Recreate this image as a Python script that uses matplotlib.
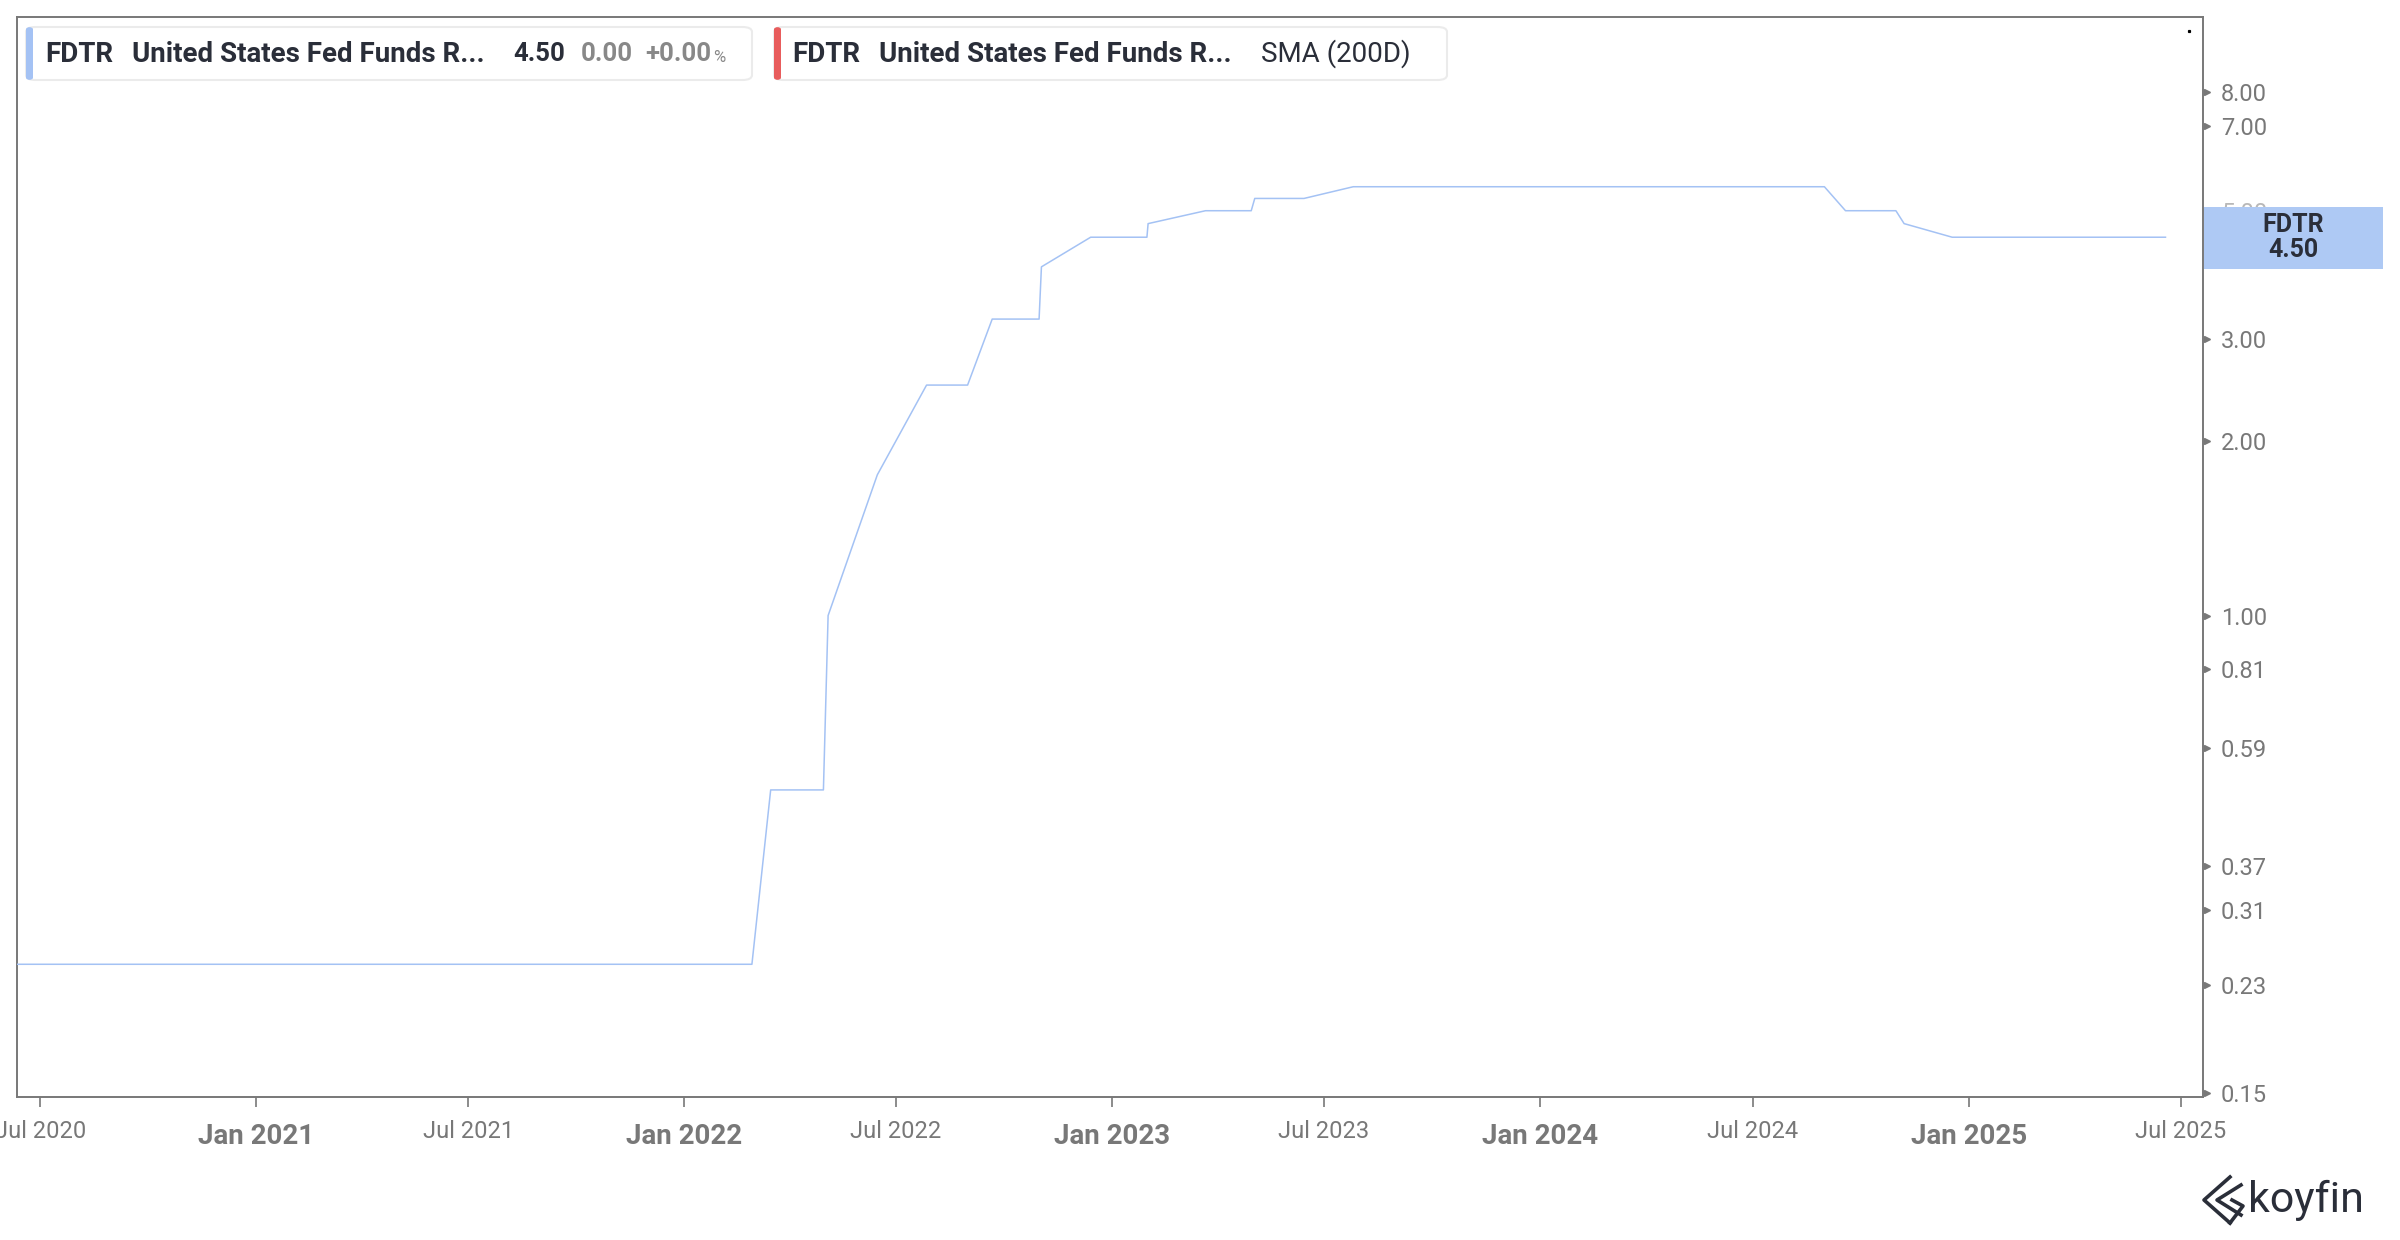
import matplotlib
matplotlib.use("Agg")
import matplotlib.pyplot as plt
import matplotlib.transforms as mtransforms
from matplotlib.patches import FancyBboxPatch, Rectangle
import pandas as pd

# FDTR (upper bound), vertices as drawn by the chart
rate_dates = [
    "2020-06-01", "2022-02-28", "2022-03-16", "2022-04-30", "2022-05-04",
    "2022-06-15", "2022-07-27", "2022-08-31", "2022-09-21", "2022-10-31",
    "2022-11-02", "2022-12-14", "2023-01-31", "2023-02-01", "2023-03-22",
    "2023-04-30", "2023-05-03", "2023-06-14", "2023-07-26", "2024-08-31",
    "2024-09-18", "2024-10-31", "2024-11-07", "2024-12-18", "2025-06-18",
]
rate_values = [
    0.25, 0.25, 0.50, 0.50, 1.00,
    1.75, 2.50, 2.50, 3.25, 3.25,
    4.00, 4.50, 4.50, 4.75, 5.00,
    5.00, 5.25, 5.25, 5.50, 5.50,
    5.00, 5.00, 4.75, 4.50, 4.50,
]

y_ticks = [0.15, 0.23, 0.31, 0.37, 0.59, 0.81, 1.00, 2.00, 3.00, 5.00, 7.00, 8.00]
jan_ticks = ["2021-01-01", "2022-01-01", "2023-01-01", "2024-01-01", "2025-01-01"]
jul_ticks = ["2020-07-01", "2021-07-01", "2022-07-01", "2023-07-01", "2024-07-01", "2025-07-01"]
x_range = ["2020-06-11", "2025-07-20"]
y_range = [0.1475, 10.8]

last_value = 4.50
ticker = "FDTR"
name = "United States Fed Funds R..."

LINE = "#a4c2f4"
GRAY = "#787878"
DARK = "#2a2e39"
FONT = ["Roboto", "DejaVu Sans"]
plt.rcParams["font.family"] = FONT

W, H = 2400, 1240
fig = plt.figure(figsize=(W / 100, H / 100), dpi=100)


def fx(px):
    return px / W


def fy(py):
    return 1 - py / H


left, right, top, bottom = 17, 2203, 17, 1097
ax = fig.add_axes([fx(left), fy(bottom), fx(right - left), (bottom - top) / H])

dates = pd.to_datetime(rate_dates)
ax.plot(dates, rate_values, color=LINE, lw=1.1, zorder=3)

ax.set_yscale("log")
ax.set_ylim(*y_range)
ax.set_xlim(pd.to_datetime(x_range[0]), pd.to_datetime(x_range[1]))

for s in ax.spines.values():
    s.set_color(GRAY)
    s.set_linewidth(1.4)

# y axis on the right with caret ticks
ax.yaxis.tick_right()
ax.yaxis.set_minor_locator(matplotlib.ticker.NullLocator())
ax.set_yticks(y_ticks, [f"{v:.2f}" for v in y_ticks])
ax.tick_params(axis="y", which="both", length=0, pad=13, labelsize=17, labelcolor=GRAY)
for lbl, v in zip(ax.get_yticklabels(), y_ticks):
    if v == 5.00:
        lbl.set_color("#b8b8b8")
caret_tr = mtransforms.blended_transform_factory(ax.transAxes, ax.transData)
ax.plot([1 + 4 / (right - left)] * len(y_ticks), y_ticks, ">", ms=4.5,
        color=GRAY, transform=caret_tr, clip_on=False, zorder=4)

# x axis: Jan bold, Jul regular
jan = pd.to_datetime(jan_ticks)
jul = pd.to_datetime(jul_ticks)
ax.set_xticks(jan, [d.strftime("%b %Y") for d in jan], fontsize=20, fontweight="bold", color=GRAY)
ax.set_xticks(jul, [d.strftime("%b %Y") for d in jul], minor=True, fontsize=17, color=GRAY)
ax.tick_params(axis="x", which="major", length=7, width=1.2, color=GRAY, pad=11.5)
ax.tick_params(axis="x", which="minor", length=7, width=1.2, color=GRAY, pad=9.5)

# tiny marker in the top-right corner
ax.plot([0.9935], [0.9875], "s", ms=1.3, color="black", transform=ax.transAxes)

# legend chips at the top
def chip(x0, x1, color):
    y0, y1 = 27, 80
    fig.patches.append(FancyBboxPatch(
        (fx(x0), fy(y1)), fx(x1 - x0), (y1 - y0) / H,
        boxstyle="round,pad=0,rounding_size=0.004", transform=fig.transFigure,
        facecolor="white", edgecolor="#ebebeb", lw=1.5, zorder=5))
    fig.patches.append(FancyBboxPatch(
        (fx(x0), fy(y1)), fx(7), (y1 - y0) / H,
        boxstyle="round,pad=0,rounding_size=0.002", transform=fig.transFigure,
        facecolor=color, edgecolor="none", zorder=6))


chip(26, 752, LINE)
chip(774, 1447, "#e85c5c")

ty = fy(54)
fig.text(fx(45), ty, ticker, fontsize=20, fontweight="bold", color=DARK, va="center", zorder=7)
fig.text(fx(132), ty, name, fontsize=20, fontweight="bold", color=DARK, va="center", zorder=7)
fig.text(fx(513), ty, f"{last_value:.2f}", fontsize=18.5, fontweight="bold", color=DARK, va="center", zorder=7)
fig.text(fx(581), ty, "0.00", fontsize=18.5, fontweight="bold", color="#888888", va="center", zorder=7)
fig.text(fx(645), ty, "+0.00", fontsize=18.5, fontweight="bold", color="#888888", va="center", zorder=7)
fig.text(fx(713), fy(58), "%", fontsize=12, color="#888888", va="center", zorder=7)
fig.text(fx(792), ty, ticker, fontsize=20, fontweight="bold", color=DARK, va="center", zorder=7)
fig.text(fx(879), ty, name, fontsize=20, fontweight="bold", color=DARK, va="center", zorder=7)
fig.text(fx(1261), ty, "SMA (200D)", fontsize=20, color=DARK, va="center", zorder=7)

# last value label on the right axis
fig.patches.append(Rectangle((fx(2204), fy(269)), fx(2383 - 2204), (269 - 207) / H,
                             transform=fig.transFigure, facecolor="#aec9f4",
                             edgecolor="none", zorder=5))
fig.text(fx(2293), fy(225), ticker, fontsize=18, fontweight="bold", color=DARK,
         ha="center", va="center", zorder=7)
fig.text(fx(2293), fy(250), f"{last_value:.2f}", fontsize=18, fontweight="bold", color=DARK,
         ha="center", va="center", zorder=7)

# koyfin mark
logo_x = [[2230, 2204, 2230], [2241, 2217, 2241], [2230, 2243, 2232]]
logo_y = [[1177, 1200, 1223], [1185, 1200, 1215], [1223, 1206, 1200]]
for xs, ys in zip(logo_x, logo_y):
    fig.add_artist(matplotlib.lines.Line2D([fx(v) for v in xs], [fy(v) for v in ys],
                                           transform=fig.transFigure, color=DARK, lw=2.6))
fig.text(fx(2248), fy(1212), "koyfin", fontsize=31, color=DARK, va="baseline")

fig.savefig("out.png", dpi=100, facecolor="white")
